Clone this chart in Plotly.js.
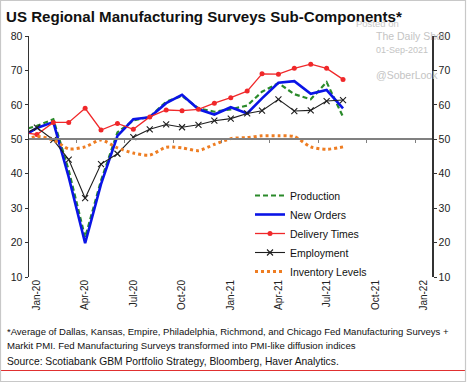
<!DOCTYPE html>
<html>
<head>
<meta charset="utf-8">
<script src="https://cdn.plot.ly/plotly-3.0.1.min.js"></script>
<style>html,body{margin:0;padding:0;background:#fff}#chart{width:467px;height:384px}</style>
</head>
<body>
<div id="chart"></div>
<script>
// Monthly observations (Dec-19 point sits just left of the visible range)
const months = ['2019-12-01','2020-01-01','2020-02-01','2020-03-01','2020-04-01','2020-05-01','2020-06-01','2020-07-01','2020-08-01','2020-09-01','2020-10-01','2020-11-01','2020-12-01','2021-01-01','2021-02-01','2021-03-01','2021-04-01','2021-05-01','2021-06-01','2021-07-01','2021-08-01'];
const production = [52.5,53.9,55.8,41.0,21.5,38.0,52.0,55.5,56.5,60.9,62.6,59.0,58.0,58.7,59.8,63.8,66.3,63.1,61.6,66.6,56.5];
const newOrders  = [50.4,53.3,55.0,39.0,19.8,37.0,51.0,55.8,56.4,60.5,62.9,58.7,57.2,59.3,57.5,61.9,66.4,66.9,63.2,64.3,59.0];
const deliveryTimes = [52.0,51.4,54.9,54.9,59.0,52.7,54.6,52.9,56.5,58.5,58.3,58.7,60.5,62.1,64.0,69.0,68.9,70.6,71.8,70.6,67.4];
const employment = [51.0,53.4,49.8,44.1,32.9,42.8,45.8,50.6,52.9,54.3,53.5,54.2,55.4,56.0,57.5,58.3,61.6,58.2,58.4,61.1,61.4];
const inventoryLevels = [49.2,50.8,49.8,47.2,47.8,49.8,47.5,46.0,45.4,47.7,47.5,46.7,48.5,50.2,50.5,51.0,51.0,50.8,47.8,47.1,47.8];

const xTickVals = ['2020-01-01','2020-04-01','2020-07-01','2020-10-01','2021-01-01','2021-04-01','2021-07-01','2021-10-01','2022-01-01'];
const xTickText = ['Jan-20','Apr-20','Jul-20','Oct-20','Jan-21','Apr-21','Jul-21','Oct-21','Jan-22'];
const midTickVals = ['2019-12-15','2020-03-15','2020-06-15','2020-09-15','2020-12-15','2021-03-15','2021-06-15','2021-09-15','2021-12-15'];
const yTickVals = [10,20,30,40,50,60,70,80];

const title = 'US Regional Manufacturing Surveys Sub-Components*';
const note1 = '*Average of Dallas, Kansas, Empire, Philadelphia, Richmond, and Chicago Fed Manufacturing Surveys +';
const note2 = 'Markit PMI. Fed Manufacturing Surveys transformed into PMI-like diffusion indices';
const source = 'Source: Scotiabank GBM Portfolio Strategy, Bloomberg, Haver Analytics.';

const FONT = 'Liberation Sans, Arial, sans-serif';
const xRange = ['2019-12-17','2022-01-16'];

// pixel helpers for paper placement of page furniture (plot area 29..432 x 36..277)
const PL=29, PW=403, PB=277, PH=241;
const px = v => (v-PL)/PW;
const py = v => (PB-v)/PH;

const traces = [
  {name:'Production', x:months, y:production, type:'scatter', mode:'lines',
   line:{color:'#2a8a2a', width:2.2, dash:'5px,3px'}},
  {name:'New Orders', x:months, y:newOrders, type:'scatter', mode:'lines',
   line:{color:'#0a14e6', width:2.6}},
  {name:'Delivery Times', x:months, y:deliveryTimes, type:'scatter', mode:'lines+markers',
   line:{color:'#f0282a', width:1.3}, marker:{symbol:'circle', size:5, color:'#f0282a'}},
  {name:'Employment', x:months, y:employment, type:'scatter', mode:'lines+markers',
   line:{color:'#1e1e1e', width:1.1}, marker:{symbol:'x-thin', size:6, line:{width:1.1, color:'#1e1e1e'}}},
  {name:'Inventory Levels', x:months, y:inventoryLevels, type:'scatter', mode:'lines',
   xaxis:'x2', yaxis:'y2',
   line:{color:'#ee7d22', width:3, dash:'3px,3px', shape:'spline', smoothing:0.7}}
];

const ann = (text, x, y, size, color, extra) => Object.assign({
  text, xref:'paper', yref:'paper', x:px(x), y:py(y), xanchor:'left', yanchor:'middle',
  showarrow:false, font:{family:FONT, size, color}}, extra||{});

const layout = {
  width:467, height:384, autosize:false,
  margin:{l:PL, r:467-432, t:36, b:384-PB, pad:0},
  paper_bgcolor:'#fff', plot_bgcolor:'#fff',
  font:{family:FONT, size:10, color:'#222'},
  title:{text:'<b>'+title+'</b>', xref:'container', yref:'container', x:6/467, y:1-16.5/384,
         xanchor:'left', yanchor:'middle', font:{family:FONT, size:15.1, color:'#111'}},
  showlegend:true,
  legend:{x:px(250), y:py(181), xanchor:'left', yanchor:'top', bgcolor:'rgba(0,0,0,0)',
          font:{family:FONT, size:10.5, color:'#111'}, itemwidth:30, tracegroupgap:0},
  xaxis:{type:'date', range:xRange, showline:false, showgrid:false, zeroline:false,
         tickmode:'array', tickvals:xTickVals, ticktext:xTickText, tickangle:-90, ticks:'',
         tickfont:{family:FONT, size:10, color:'#222'}},
  xaxis2:{type:'date', range:xRange, overlaying:'x', anchor:'free', position:(50-10)/70,
          showline:true, linecolor:'#808080', linewidth:2, showgrid:false, zeroline:false,
          tickmode:'array', tickvals:midTickVals, ticks:'outside', ticklen:3, tickwidth:1,
          tickcolor:'#808080', showticklabels:false},
  yaxis:{range:[10,80], tickmode:'array', tickvals:yTickVals, showline:true, linecolor:'#333',
         linewidth:1.5, ticks:'outside', ticklen:3, tickcolor:'#333', showgrid:false, zeroline:false,
         tickfont:{family:FONT, size:10.5, color:'#222'}},
  yaxis2:{range:[10,80], overlaying:'y', side:'right', anchor:'free', position:1, tickmode:'array', tickvals:yTickVals,
          showline:true, linecolor:'#333', linewidth:1.5, ticks:'outside', ticklen:3, tickcolor:'#333',
          showgrid:false, zeroline:false, tickfont:{family:FONT, size:10.5, color:'#222'}},
  annotations:[
    ann('Posted on', 354, 24, 9.5, '#c9c9c9'),
    ann('The Daily Shot', 374, 35.5, 10.5, '#c4c4c4'),
    ann('01-Sep-2021', 374, 50, 9, '#c4c4c4'),
    ann('@SoberLook', 374, 75, 10.5, '#c4c4c4'),
    ann(note1, 5, 331.5, 9.5, '#111'),
    ann(note2, 5, 346, 9.6, '#111'),
    ann(source, 5, 361.5, 10.3, '#111')
  ],
  shapes:[
    {type:'line', xref:'paper', yref:'paper', x0:px(0), x1:px(466), y0:py(370.5), y1:py(370.5),
     line:{color:'#e03030', width:1.2}},
    {type:'rect', xref:'paper', yref:'paper', x0:px(0.5), x1:px(465.5), y0:py(0.5), y1:py(381.5),
     line:{color:'#c8c8c8', width:1.2}, fillcolor:'rgba(0,0,0,0)'}
  ]
};

Plotly.newPlot('chart', traces, layout, {displayModeBar:false, staticPlot:true});
</script>
</body>
</html>
